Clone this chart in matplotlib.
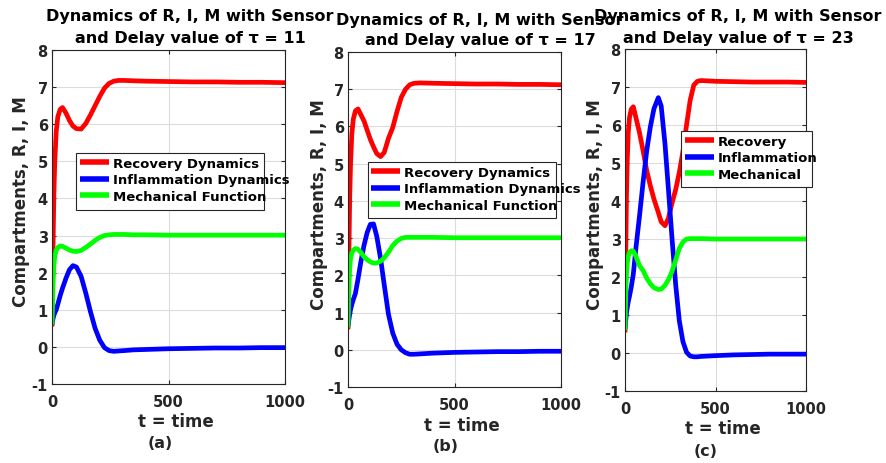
import matplotlib
matplotlib.use("Agg")
import matplotlib.pyplot as plt
from matplotlib.patches import Rectangle

plt.rcParams['font.family'] = ['DejaVu Sans']
plt.rcParams['font.weight'] = 'bold'

# ---------------- data ----------------
t_a = [0, 4, 8, 12, 18, 25, 35, 45, 60, 75, 90, 105, 125, 145, 165, 185, 205, 225, 245, 265,
       285, 310, 350, 400, 500, 600, 700, 800, 900, 1000]
R_a = [0.55, 2.5, 4.1, 5.0, 5.8, 6.2, 6.4, 6.45, 6.3, 6.1, 5.95, 5.88, 5.87, 6.02, 6.25, 6.5,
       6.75, 6.97, 7.1, 7.16, 7.18, 7.18, 7.17, 7.16, 7.15, 7.14, 7.14, 7.13, 7.13, 7.12]
I_a = [0.6, 0.75, 0.85, 0.92, 1.0, 1.15, 1.38, 1.58, 1.85, 2.08, 2.19, 2.15, 1.9, 1.45, 0.95,
       0.5, 0.18, -0.02, -0.1, -0.12, -0.11, -0.1, -0.08, -0.07, -0.05, -0.04, -0.03, -0.03,
       -0.02, -0.02]
M_a = [0.6, 1.6, 2.2, 2.45, 2.6, 2.68, 2.72, 2.71, 2.66, 2.61, 2.58, 2.57, 2.6, 2.68, 2.77,
       2.87, 2.95, 3.0, 3.02, 3.03, 3.03, 3.03, 3.02, 3.02, 3.01, 3.01, 3.01, 3.01, 3.01, 3.01]

t_b = [0, 4, 8, 12, 18, 25, 35, 47, 60, 75, 90, 105, 120, 135, 153, 170, 190, 210, 230, 250,
       270, 290, 310, 340, 400, 500, 600, 700, 800, 900, 1000]
R_b = [0.55, 2.5, 4.1, 5.0, 5.8, 6.2, 6.42, 6.47, 6.32, 6.15, 5.9, 5.65, 5.45, 5.27, 5.19,
       5.3, 5.68, 5.97, 6.4, 6.78, 7.0, 7.12, 7.16, 7.17, 7.16, 7.15, 7.14, 7.14, 7.13, 7.13, 7.12]
I_b = [0.62, 0.8, 0.96, 1.08, 1.22, 1.35, 1.52, 1.9, 2.35, 2.8, 3.15, 3.37, 3.38, 3.05, 2.45,
       1.75, 0.95, 0.45, 0.15, 0.0, -0.08, -0.12, -0.12, -0.11, -0.09, -0.07, -0.06, -0.05,
       -0.05, -0.04, -0.04]
M_b = [0.6, 1.6, 2.2, 2.45, 2.6, 2.68, 2.72, 2.7, 2.62, 2.5, 2.42, 2.36, 2.33, 2.33, 2.38,
       2.47, 2.62, 2.8, 2.92, 2.99, 3.02, 3.02, 3.02, 3.02, 3.02, 3.01, 3.01, 3.01, 3.01, 3.01, 3.01]

t_c = [0, 4, 8, 12, 18, 25, 35, 46, 60, 80, 100, 120, 140, 160, 184, 200, 221, 240, 260, 280,
       300, 320, 340, 360, 380, 400, 420, 500, 600, 700, 800, 900, 1000]
R_c = [0.54, 2.5, 4.1, 5.0, 5.8, 6.2, 6.42, 6.48, 6.2, 5.8, 5.32, 4.8, 4.4, 4.05, 3.7, 3.45,
       3.35, 3.55, 3.95, 4.3, 4.75, 5.3, 6.0, 6.65, 7.05, 7.15, 7.17, 7.15, 7.14, 7.13, 7.13,
       7.13, 7.12]
I_c = [0.62, 0.85, 1.05, 1.18, 1.35, 1.5, 1.75, 2.08, 2.75, 3.6, 4.5, 5.32, 5.95, 6.43, 6.72,
       6.5, 5.5, 4.3, 3.0, 1.8, 0.85, 0.3, 0.02, -0.08, -0.1, -0.1, -0.09, -0.07, -0.05, -0.04,
       -0.03, -0.03, -0.03]
M_c = [0.6, 1.5, 2.05, 2.35, 2.55, 2.65, 2.69, 2.68, 2.55, 2.3, 2.17, 1.97, 1.82, 1.72, 1.67,
       1.68, 1.78, 1.93, 2.15, 2.45, 2.75, 2.92, 3.0, 3.01, 3.01, 3.01, 3.01, 3.0, 3.0, 3.0, 3.0,
       3.0, 3.0]

taus = [11, 17, 23]
panel_tags = ['(a)', '(b)', '(c)']
legend_sets = [
    ['Recovery Dynamics', 'Inflammation Dynamics', 'Mechanical Function'],
    ['Recovery Dynamics', 'Inflammation Dynamics', 'Mechanical Function'],
    ['Recovery', 'Inflammation', 'Mechanical'],
]
x_ticks = [0, 500, 1000]
y_ticks = [-1, 0, 1, 2, 3, 4, 5, 6, 7, 8]

# ---------------- layout (pixels) ----------------
W, H = 886, 464
fig = plt.figure(figsize=(W / 100, H / 100), dpi=100)

def fx(px):
    return px / W

def fy(py):
    return 1 - py / H

# axes boxes: left, right, top, bottom in pixels
boxes = [(52, 285, 51, 385), (348, 561, 53, 388), (625, 806, 50, 392)]
title_pos = [(190, 17, 38), (480, 20, 41), (738, 17, 38)]
xlabel_pos = [(176, 422), (462, 426), (723, 429)]
tag_pos = [(160, 444), (446, 447), (706, 452)]
ylabel_pos = [(21, 202), (319, 205), (595, 205)]
# legend frame: left, right, top, bottom ; legend content anchor (handle left, first row top)
legend_box = [(76, 264, 154, 211), (368, 556, 163, 219), (681, 812, 132, 188)]
legend_anchor = [(80, 158), (371, 167), (685, 136)]

series = [(t_a, R_a, I_a, M_a), (t_b, R_b, I_b, M_b), (t_c, R_c, I_c, M_c)]
dark = '#262626'
LW = 3.4

for k in range(3):
    l, r, tp, bt = boxes[k]
    ax = fig.add_axes([fx(l), fy(bt), fx(r - l), (bt - tp) / H])
    t, R, I, M = series[k]
    h1, = ax.plot(t, R, color='#ff0000', lw=LW, solid_capstyle='butt')
    h2, = ax.plot(t, I, color='#0000ff', lw=LW, solid_capstyle='butt')
    h3, = ax.plot(t, M, color='#00ff00', lw=LW, solid_capstyle='butt')
    ax.set_xlim(0, 1000)
    ax.set_ylim(-1, 8)
    ax.set_xticks(x_ticks)
    ax.set_yticks(y_ticks)
    ax.set_xticklabels([str(v) for v in x_ticks])
    ax.set_yticklabels([str(v) for v in y_ticks])
    ax.grid(True, color='#dcdcdc', lw=0.8)
    ax.set_axisbelow(True)
    ax.tick_params(direction='in', length=3, width=0.8, colors=dark, top=True, right=True,
                   labelsize=10.5)
    ax.tick_params(axis='x', pad=7)
    ax.tick_params(axis='y', pad=3)
    for lab in ax.get_xticklabels() + ax.get_yticklabels():
        lab.set_fontweight('bold')
        lab.set_color(dark)
    for s in ax.spines.values():
        s.set_color(dark)
        s.set_linewidth(0.8)

    # legend frame drawn separately (text may overflow the frame, as in the original)
    bl, br, btop, bbot = legend_box[k]
    rect = Rectangle((fx(bl), fy(bbot)), fx(br - bl), (bbot - btop) / H,
                     transform=fig.transFigure, facecolor='white', edgecolor=dark,
                     linewidth=0.8, zorder=4, clip_on=False)
    ax.add_patch(rect)
    leg = ax.legend([h1, h2, h3], legend_sets[k], loc='upper left',
                    bbox_to_anchor=(fx(legend_anchor[k][0]), fy(legend_anchor[k][1])),
                    bbox_transform=fig.transFigure, borderaxespad=0, frameon=False,
                    prop={'weight': 'bold', 'size': 9.5}, handlelength=2.2,
                    handletextpad=0.3, labelspacing=0.26, borderpad=0)
    leg.set_zorder(5)
    for line in leg.get_lines():
        line.set_linewidth(4)

    tx, ty1, ty2 = title_pos[k]
    fig.text(fx(tx), fy(ty1), 'Dynamics of R, I, M with Sensor', ha='center', va='center',
             fontsize=11.5, fontweight='bold', color='black')
    fig.text(fx(tx), fy(ty2), 'and Delay value of \u03c4 = %d' % taus[k], ha='center',
             va='center', fontsize=11.5, fontweight='bold', color='black')
    fig.text(fx(xlabel_pos[k][0]), fy(xlabel_pos[k][1]), 't = time', ha='center', va='center',
             fontsize=12, fontweight='bold', color=dark)
    fig.text(fx(tag_pos[k][0]), fy(tag_pos[k][1]), panel_tags[k], ha='center', va='center',
             fontsize=11.5, fontweight='bold', color=dark)
    fig.text(fx(ylabel_pos[k][0]), fy(ylabel_pos[k][1]), 'Compartments, R, I, M', ha='center',
             va='center', rotation=90, fontsize=12, fontweight='bold', color=dark)

fig.savefig('out.png', dpi=100)
